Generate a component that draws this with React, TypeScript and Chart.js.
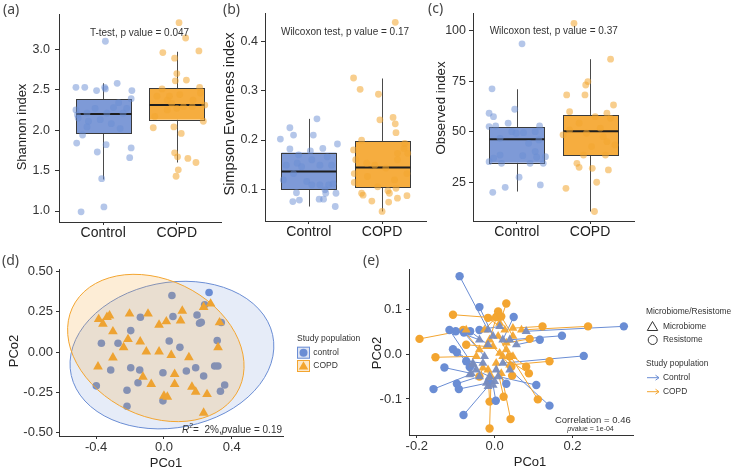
import React, { useEffect, useRef } from 'react';
import { Chart, registerables } from 'chart.js';

Chart.register(...registerables);

const BLUE = '#6A8DD4';
const ORANGE = '#F3A530';
const BLUE_A = 'rgba(106,141,212,0.5)';
const ORANGE_A = 'rgba(243,165,48,0.55)';
const BLUE_BOX = '#7E9AD7';
const ORANGE_BOX = '#F6AD3F';
const INK = '#333333';
const SANS = '"Liberation Sans", Arial, sans-serif';
const LABEL_FONT = '"Noto Sans", "DejaVu Sans", sans-serif';

const groupLabels = ['Control', 'COPD'];

// ---------- (a) Shannon ----------
const shannonTicks = [1.0, 1.5, 2.0, 2.5, 3.0];
const shannonControl = [3.10, 2.53, 2.53, 2.53, 2.58, 2.49, 2.49, 2.51, 2.39, 2.34, 2.25, 2.19, 2.21, 2.27, 2.21, 2.28, 2.27, 2.11, 2.04, 2.08, 2.02, 1.94, 1.84, 1.82, 1.78, 1.73, 1.66, 1.40, 1.05, 0.99, 2.15, 2.13, 2.21];
const shannonControlJitter = [0.03, -0.37, -0.25, 0.02, 0.19, 0.39, -0.09, 0.03, 0.38, 0.21, -0.37, -0.35, -0.22, -0.11, 0.05, 0.14, 0.32, -0.20, -0.22, 0.11, 0.23, -0.28, -0.36, 0.04, 0.38, -0.08, 0.36, -0.02, 0.01, -0.30, -0.34, -0.04, 0.27];
const shannonCopd = [3.33, 3.14, 2.96, 2.98, 2.89, 2.70, 2.61, 2.62, 2.51, 2.53, 2.46, 2.44, 2.42, 2.42, 2.37, 2.31, 2.29, 2.27, 2.25, 2.29, 2.17, 2.11, 2.03, 2.04, 1.96, 1.72, 1.67, 1.65, 1.60, 1.51, 1.43, 2.37, 2.33];
const shannonCopdJitter = [0.03, 0.12, -0.19, 0.30, -0.03, 0.00, -0.02, 0.13, -0.20, 0.31, 0.32, 0.04, -0.10, -0.27, 0.22, 0.38, 0.21, 0.00, -0.13, 0.09, -0.30, 0.36, -0.32, -0.04, 0.06, -0.03, 0.01, 0.15, 0.26, 0.02, -0.01, -0.13, -0.07];
// [lower whisker, Q1, median, Q3, upper whisker]
const shannonControlBox = [1.39, 1.96, 2.20, 2.38, 2.58];
const shannonCopdBox = [1.60, 2.13, 2.31, 2.52, 2.97];

// ---------- (b) Simpson evenness ----------
const simpsonTicks = [0.1, 0.2, 0.3, 0.4];
const simpsonControl = [0.243, 0.225, 0.210, 0.210, 0.202, 0.192, 0.182, 0.178, 0.183, 0.170, 0.166, 0.160, 0.149, 0.153, 0.146, 0.149, 0.149, 0.132, 0.119, 0.116, 0.109, 0.109, 0.109, 0.111, 0.099, 0.093, 0.092, 0.080, 0.080, 0.092, 0.078, 0.075, 0.065];
const simpsonControlJitter = [0.11, -0.26, -0.21, 0.06, -0.39, 0.39, -0.26, 0.02, 0.19, -0.14, 0.25, 0.04, -0.31, -0.16, -0.10, 0.15, 0.31, -0.21, -0.35, -0.03, 0.04, 0.15, 0.27, 0.33, 0.22, -0.17, 0.37, 0.14, 0.20, 0.23, -0.13, -0.22, 0.36];
const simpsonCopd = [0.439, 0.326, 0.303, 0.293, 0.246, 0.241, 0.233, 0.215, 0.193, 0.200, 0.183, 0.180, 0.173, 0.173, 0.160, 0.153, 0.149, 0.160, 0.143, 0.132, 0.132, 0.126, 0.114, 0.119, 0.105, 0.097, 0.092, 0.088, 0.102, 0.087, 0.082, 0.092, 0.076, 0.074, 0.055];
const simpsonCopdJitter = [0.18, -0.39, -0.30, -0.05, 0.15, -0.03, 0.18, 0.19, 0.31, -0.28, 0.30, -0.39, 0.21, 0.35, -0.36, -0.21, -0.10, 0.21, 0.05, 0.34, -0.38, -0.20, -0.38, 0.17, -0.06, 0.08, -0.28, -0.26, 0.19, 0.34, 0.21, 0.10, -0.14, 0.09, 0.00];
const simpsonControlBox = [0.065, 0.100, 0.136, 0.1745, 0.243];
const simpsonCopdBox = [0.055, 0.104, 0.144, 0.198, 0.325];

// ---------- (c) Observed ----------
const observedTicks = [25, 50, 75, 100];
const observedControl = [93.6, 71.3, 61.2, 59.2, 57.5, 52.6, 52.9, 54.3, 49.6, 52.9, 50.1, 49.3, 50.1, 46.8, 44.3, 46.0, 40.2, 38.5, 38.2, 37.7, 36.9, 37.4, 34.4, 34.4, 34.4, 35.2, 27.5, 23.7, 22.5, 20.0];
const observedControlJitter = [0.07, -0.34, -0.03, -0.38, -0.32, -0.38, -0.29, -0.12, 0.09, 0.31, -0.07, -0.01, 0.25, -0.23, 0.16, 0.30, 0.25, -0.23, 0.08, 0.39, -0.32, 0.27, 0.18, 0.36, -0.21, -0.38, 0.03, 0.32, -0.16, -0.33];
const observedCopd = [103.8, 86.0, 74.9, 73.2, 68.3, 68.3, 63.3, 60.0, 59.2, 57.5, 56.7, 54.3, 50.9, 51.8, 48.5, 49.3, 47.6, 43.5, 45.1, 42.7, 38.5, 38.5, 34.4, 32.4, 31.9, 31.1, 25.0, 22.0, 10.5];
const observedCopdJitter = [-0.22, 0.28, -0.03, -0.06, -0.32, -0.07, 0.32, -0.28, 0.23, 0.07, 0.28, -0.15, -0.28, 0.14, -0.37, -0.05, 0.18, 0.34, 0.23, 0.02, -0.09, 0.21, -0.18, -0.15, 0.03, 0.25, 0.09, -0.33, 0.06];
const observedControlBox = [20.4, 34.7, 46.3, 52.3, 71.1];
const observedCopdBox = [10.5, 38.4, 50.3, 58.2, 86.0];

// ---------- (d) PCoA ----------
const pcoaYTicks = [-0.5, -0.25, 0, 0.25, 0.5];
const pcoaXTicks = [-0.4, 0, 0.4];
const pcoaControlX = [0.047, 0.266, 0.240, 0.053, -0.139, 0.195, 0.210, 0.220, 0.338, -0.196, -0.369, -0.271, 0.031, 0.094, 0.314, -0.314, -0.196, -0.143, -0.006, 0.132, 0.187, 0.234, 0.299, 0.318, -0.399, -0.218, -0.153, -0.006, 0.358, 0.333, -0.218];
const pcoaControlY = [0.351, 0.369, 0.293, 0.220, 0.216, 0.230, 0.178, 0.185, 0.183, 0.133, 0.054, 0.054, 0.068, 0.029, 0.071, -0.112, -0.098, -0.112, -0.129, -0.118, -0.098, -0.149, -0.087, -0.087, -0.210, -0.237, -0.191, -0.303, -0.205, -0.243, -0.336];
const pcoaCopdX = [-0.385, -0.360, -0.336, -0.321, -0.301, -0.203, -0.094, -0.029, 0.014, 0.098, 0.108, 0.234, 0.275, 0.328, 0.319, -0.212, -0.238, -0.140, -0.104, -0.029, 0.043, 0.147, -0.301, -0.389, -0.124, -0.075, 0.063, 0.063, 0.000, 0.020, 0.165, 0.187, 0.254, 0.234];
const pcoaCopdY = [0.203, 0.174, 0.216, 0.226, 0.127, 0.237, 0.237, 0.168, 0.189, 0.195, 0.255, 0.278, 0.299, 0.183, 0.029, 0.079, 0.029, 0.064, 0.002, 0.002, -0.019, -0.033, -0.035, -0.091, -0.154, -0.199, -0.137, -0.199, -0.272, -0.278, -0.216, -0.247, -0.262, -0.378];
// ellipse: [centre x, centre y, semi-axis a, semi-axis b, angle in degrees]
const pcoaControlEllipse = [0.047, -0.019, 0.607, 0.450, 12];
const pcoaCopdEllipse = [-0.048, 0.025, 0.553, 0.417, -31];

// ---------- (e) Procrustes ----------
const procYTicks = [-0.1, 0, 0.1];
const procXTicks = [-0.2, 0, 0.2];
const procControlResX = [-0.090, -0.039, 0.049, -0.100, -0.079, -0.107, -0.097, 0.332, 0.173, 0.116, 0.229, -0.129, -0.157, -0.097, -0.092, -0.080, 0.003, 0.141, 0.107, 0.030, -0.063, -0.039, -0.073, -0.064, -0.116, -0.015];
const procControlResY = [0.174, 0.105, 0.083, 0.051, 0.048, 0.011, 0.004, 0.062, 0.041, 0.032, -0.004, -0.030, -0.078, -0.066, -0.078, -0.136, -0.104, -0.115, -0.069, -0.066, 0.051, 0.054, -0.016, -0.029, 0.054, -0.061];
const procControlMicX = [-0.017, -0.004, 0.021, -0.039, -0.026, -0.056, -0.047, 0.081, 0.039, 0.056, 0.021, -0.060, -0.064, -0.039, -0.021, -0.017, -0.004, 0.039, 0.009, 0.004, -0.017, 0.013, -0.030, -0.013, -0.056, 0.000];
const procControlMicY = [0.054, 0.040, 0.032, 0.032, -0.005, -0.020, -0.035, 0.051, 0.032, 0.021, -0.020, -0.043, -0.046, -0.050, -0.065, -0.072, -0.069, -0.035, -0.050, -0.035, 0.021, 0.062, -0.020, -0.050, -0.024, -0.061];
const procCopdResX = [-0.193, -0.107, -0.152, 0.030, 0.009, 0.004, -0.017, 0.123, 0.240, 0.090, 0.141, 0.088, 0.045, -0.013, 0.023, 0.041, -0.013, 0.111, -0.073, 0.043, -0.039, 0.039, -0.081, 0.081, 0.017];
const procCopdResY = [0.034, 0.088, -0.007, 0.113, 0.095, 0.083, 0.081, 0.062, 0.062, 0.034, -0.016, -0.043, -0.048, -0.106, -0.095, -0.145, -0.166, -0.101, 0.021, -0.028, -0.050, -0.005, 0.054, -0.028, 0.084];
const procCopdMicX = [-0.073, 0.000, -0.047, 0.013, -0.013, -0.026, 0.026, 0.047, 0.069, 0.030, 0.039, 0.021, 0.013, -0.017, 0.004, 0.017, -0.009, 0.030, -0.021, -0.004, -0.030, 0.009, -0.039, 0.047, 0.047];
const procCopdMicY = [0.054, 0.081, -0.005, 0.069, 0.032, 0.054, 0.054, 0.058, 0.054, 0.025, -0.024, -0.005, 0.002, -0.035, -0.020, -0.043, -0.050, 0.010, 0.017, 0.017, -0.031, 0.040, 0.010, -0.005, 0.040];

// ---------- helpers ----------
type Part = { t: string; italic?: boolean; sup?: boolean };
type TextItem = { t?: string; parts?: Part[]; x: number; y: number; size: number; rot?: number; align?: 'left' | 'right' | 'center'; family?: string; color?: string };

function decorPlugin(texts: TextItem[], shapes: any[] = []) {
  return {
    id: 'decor',
    afterDraw(chart: any) {
      const ctx: CanvasRenderingContext2D = chart.ctx;
      shapes.forEach((s: any) => {
        ctx.save();
        ctx.lineWidth = 1;
        if (s.shape === 'rect') {
          ctx.fillStyle = s.fill; ctx.fillRect(s.x, s.y, s.w, s.h);
          ctx.strokeStyle = s.stroke; ctx.strokeRect(s.x + 0.5, s.y + 0.5, s.w - 1, s.h - 1);
        } else if (s.shape === 'circle' || s.shape === 'tri') {
          ctx.beginPath();
          if (s.shape === 'circle') ctx.arc(s.x, s.y, s.r, 0, Math.PI * 2);
          else {
            ctx.moveTo(s.x, s.y - s.r);
            ctx.lineTo(s.x + s.r * 0.866, s.y + s.r * 0.5);
            ctx.lineTo(s.x - s.r * 0.866, s.y + s.r * 0.5);
            ctx.closePath();
          }
          if (s.fill) { ctx.fillStyle = s.fill; ctx.fill(); }
          if (s.stroke) { ctx.strokeStyle = s.stroke; ctx.stroke(); }
        } else if (s.shape === 'arrow') {
          ctx.strokeStyle = s.color;
          ctx.beginPath(); ctx.moveTo(s.x1, s.y); ctx.lineTo(s.x2, s.y);
          ctx.moveTo(s.x2 - 3.5, s.y - 2.5); ctx.lineTo(s.x2, s.y); ctx.lineTo(s.x2 - 3.5, s.y + 2.5);
          ctx.stroke();
        }
        ctx.restore();
      });
      texts.forEach((it) => {
        ctx.save();
        ctx.fillStyle = it.color || INK;
        ctx.textBaseline = 'middle';
        ctx.textAlign = 'left';
        ctx.translate(it.x, it.y);
        if (it.rot) ctx.rotate((it.rot * Math.PI) / 180);
        const parts: Part[] = it.parts || [{ t: it.t || '' }];
        const fam = it.family || SANS;
        const fontOf = (p: Part) => `${p.italic ? 'italic ' : ''}${p.sup ? it.size * 0.7 : it.size}px ${fam}`;
        const widths = parts.map((p) => { ctx.font = fontOf(p); return ctx.measureText(p.t).width; });
        const total = widths.reduce((a, b) => a + b, 0);
        let x = it.align === 'left' ? 0 : it.align === 'right' ? -total : -total / 2;
        parts.forEach((p, i) => {
          ctx.font = fontOf(p);
          ctx.fillText(p.t, x, p.sup ? -it.size * 0.38 : 0);
          x += widths[i];
        });
        ctx.restore();
      });
    },
  };
}

function boxPlugin(boxes: number[][], fills: string[]) {
  return {
    id: 'boxes',
    beforeDatasetsDraw(chart: any) {
      const ctx: CanvasRenderingContext2D = chart.ctx;
      const xs = chart.scales.x, ys = chart.scales.y;
      boxes.forEach((b, i) => {
        const xc = i + 1;
        const l = Math.round(xs.getPixelForValue(xc - 0.375)) + 0.5;
        const r = Math.round(xs.getPixelForValue(xc + 0.375)) + 0.5;
        const c = Math.round(xs.getPixelForValue(xc)) + 0.5;
        const [mn, q1, md, q3, mx] = b;
        const yMin = ys.getPixelForValue(mn), yQ1 = ys.getPixelForValue(q1), yMd = ys.getPixelForValue(md);
        const yQ3 = ys.getPixelForValue(q3), yMax = ys.getPixelForValue(mx);
        ctx.save();
        ctx.strokeStyle = '#4a4a4a';
        ctx.lineWidth = 1;
        ctx.beginPath();
        ctx.moveTo(c, yQ3); ctx.lineTo(c, yMax);
        ctx.moveTo(c, yQ1); ctx.lineTo(c, yMin);
        ctx.stroke();
        ctx.fillStyle = fills[i];
        ctx.fillRect(l, yQ3, r - l, yQ1 - yQ3);
        ctx.strokeStyle = '#3a3a3a';
        ctx.strokeRect(l, Math.round(yQ3) + 0.5, r - l, Math.round(yQ1) - Math.round(yQ3));
        ctx.lineWidth = 2;
        ctx.strokeStyle = '#1e1e1e';
        ctx.beginPath(); ctx.moveTo(l, yMd); ctx.lineTo(r, yMd); ctx.stroke();
        ctx.restore();
      });
    },
  };
}

// ellipses are painted right after the dataset with index `afterIndex` (circles), so triangles stay on top
function ellipsePlugin(ellipses: number[][], fills: string[], strokes: string[], afterIndex: number) {
  return {
    id: 'ellipses',
    afterDatasetDraw(chart: any, args: any) {
      if (args.index !== afterIndex) return;
      const ctx: CanvasRenderingContext2D = chart.ctx;
      const xs = chart.scales.x, ys = chart.scales.y;
      ellipses.forEach((e, i) => {
        const [cxv, cyv, a, b, ang] = e;
        const cx = xs.getPixelForValue(cxv), cy = ys.getPixelForValue(cyv);
        const sx = xs.getPixelForValue(cxv + 1) - cx;
        const sy = ys.getPixelForValue(cyv + 1) - cy;
        ctx.save();
        ctx.beginPath();
        ctx.translate(cx, cy);
        ctx.scale(sx, sy);
        ctx.rotate((ang * Math.PI) / 180);
        ctx.ellipse(0, 0, a, b, 0, 0, Math.PI * 2);
        ctx.restore();
        ctx.save();
        ctx.fillStyle = fills[i]; ctx.fill();
        ctx.strokeStyle = strokes[i]; ctx.lineWidth = 1; ctx.stroke();
        ctx.restore();
      });
    },
  };
}

function segmentPlugin(sets: { x1: number[]; y1: number[]; x2: number[]; y2: number[]; color: string }[]) {
  return {
    id: 'segments',
    beforeDatasetsDraw(chart: any) {
      const ctx: CanvasRenderingContext2D = chart.ctx;
      const xs = chart.scales.x, ys = chart.scales.y;
      ctx.save();
      ctx.lineWidth = 1;
      sets.forEach((s) => {
        ctx.strokeStyle = s.color;
        s.x1.forEach((_, i) => {
          ctx.beginPath();
          ctx.moveTo(xs.getPixelForValue(s.x1[i]), ys.getPixelForValue(s.y1[i]));
          ctx.lineTo(xs.getPixelForValue(s.x2[i]), ys.getPixelForValue(s.y2[i]));
          ctx.stroke();
        });
      });
      ctx.restore();
    },
  };
}

function axis(o: { min: number; max: number; ticks: number[]; fmt: (v: number) => string; horizontal: boolean; px: number; tl: number; pad: number; size: number; color?: string }) {
  return {
    type: 'linear',
    min: o.min,
    max: o.max,
    afterBuildTicks: (s: any) => { s.ticks = o.ticks.map((v) => ({ value: v })); },
    afterFit: (s: any) => { if (o.horizontal) s.height = o.px; else s.width = o.px; },
    ticks: {
      callback: (v: any) => o.fmt(Number(v)),
      font: { family: SANS, size: o.size },
      color: o.color || INK,
      padding: o.pad,
      autoSkip: false,
      maxRotation: 0,
      minRotation: 0,
    },
    grid: { display: true, drawOnChartArea: false, drawTicks: true, tickLength: o.tl, color: INK, lineWidth: 1 },
    border: { display: true, color: INK, width: 1 },
  };
}

const baseOptions = (padding: any) => ({
  animation: false,
  responsive: false,
  maintainAspectRatio: false,
  events: [],
  layout: { padding },
  plugins: { legend: { display: false }, tooltip: { enabled: false } },
});

function boxConfig(spec: {
  ctrl: number[]; ctrlJ: number[]; copd: number[]; copdJ: number[]; boxes: number[][];
  yMin: number; yMax: number; yTicks: number[]; yFmt: (v: number) => string;
  yWidth: number; yPad: number; padR: number; padT: number; xH: number; texts: TextItem[];
}) {
  return {
    type: 'scatter',
    data: {
      datasets: [
        { data: spec.ctrl.map((v, i) => ({ x: 1 + spec.ctrlJ[i], y: v })), backgroundColor: BLUE_A, borderWidth: 0, pointRadius: 3.4 },
        { data: spec.copd.map((v, i) => ({ x: 2 + spec.copdJ[i], y: v })), backgroundColor: ORANGE_A, borderWidth: 0, pointRadius: 3.4 },
      ],
    },
    options: {
      ...baseOptions({ left: 0, right: spec.padR, top: spec.padT, bottom: 0 }),
      scales: {
        x: axis({ min: 0.4, max: 2.6, ticks: [1, 2], fmt: (v) => groupLabels[Math.round(v) - 1], horizontal: true, px: spec.xH, tl: 3, pad: 0, size: 14, color: '#222' }),
        y: axis({ min: spec.yMin, max: spec.yMax, ticks: spec.yTicks, fmt: spec.yFmt, horizontal: false, px: spec.yWidth, tl: 4, pad: spec.yPad, size: 12.5 }),
      },
    },
    plugins: [boxPlugin(spec.boxes, [BLUE_BOX, ORANGE_BOX]), decorPlugin(spec.texts)],
  };
}

export default function App() {
  const ra = useRef<HTMLCanvasElement>(null);
  const rb = useRef<HTMLCanvasElement>(null);
  const rc = useRef<HTMLCanvasElement>(null);
  const rd = useRef<HTMLCanvasElement>(null);
  const re = useRef<HTMLCanvasElement>(null);

  useEffect(() => {
    const charts: Chart[] = [];
    const cfgA = boxConfig({
      ctrl: shannonControl, ctrlJ: shannonControlJitter, copd: shannonCopd, copdJ: shannonCopdJitter,
      boxes: [shannonControlBox, shannonCopdBox], yMin: 0.864, yMax: 3.437, yTicks: shannonTicks,
      yFmt: (v) => v.toFixed(1), yWidth: 59, yPad: 5, padR: 5, padT: 14, xH: 23,
      texts: [
        { t: '(a)', x: 3, y: 10, size: 14, align: 'left', family: LABEL_FONT, color: '#444' },
        { t: 'T-test, p value = 0.047', x: 139.5, y: 33.3, size: 10 },
        { t: 'Shannon index', x: 22, y: 127, size: 13, rot: -90, color: '#222' },
      ],
    });
    const cfgB = boxConfig({
      ctrl: simpsonControl, ctrlJ: simpsonControlJitter, copd: simpsonCopd, copdJ: simpsonCopdJitter,
      boxes: [simpsonControlBox, simpsonCopdBox], yMin: 0.0356, yMax: 0.458, yTicks: simpsonTicks,
      yFmt: (v) => v.toFixed(1), yWidth: 43, yPad: 3, padR: 6, padT: 13, xH: 24,
      texts: [
        { t: '(b)', x: 1, y: 10, size: 14, align: 'left', family: LABEL_FONT, color: '#444' },
        { t: 'Wilcoxon test, p value = 0.17', x: 123, y: 32.7, size: 10 },
        { t: 'Simpson Evenness index', x: 8, y: 114, size: 14.5, rot: -90, color: '#222' },
      ],
    });
    const cfgC = boxConfig({
      ctrl: observedControl, ctrlJ: observedControlJitter, copd: observedCopd, copdJ: observedCopdJitter,
      boxes: [observedControlBox, observedCopdBox], yMin: 5.8, yMax: 108.9, yTicks: observedTicks,
      yFmt: (v) => String(Math.round(v)), yWidth: 47, yPad: 3, padR: 6, padT: 13, xH: 24,
      texts: [
        { t: '(c)', x: 2, y: 9, size: 14, align: 'left', family: LABEL_FONT, color: '#444' },
        { t: 'Wilcoxon test, p value = 0.37', x: 127.7, y: 31.7, size: 10 },
        { t: 'Observed index', x: 15, y: 108, size: 13.3, rot: -90, color: '#222' },
      ],
    });

    const cfgD: any = {
      type: 'scatter',
      data: {
        datasets: [
          { data: pcoaCopdX.map((x, i) => ({ x, y: pcoaCopdY[i] })), pointStyle: 'triangle', pointRadius: 5.6, backgroundColor: '#EEA332', borderWidth: 0 },
          { data: pcoaControlX.map((x, i) => ({ x, y: pcoaControlY[i] })), pointStyle: 'circle', pointRadius: 3.8, backgroundColor: BLUE, borderWidth: 0 },
        ],
      },
      options: {
        ...baseOptions({ left: 0, right: 87, top: 19, bottom: 0 }),
        scales: {
          x: axis({ min: -0.619, max: 0.702, ticks: pcoaXTicks, fmt: (v) => v.toFixed(1), horizontal: true, px: 32, tl: 3, pad: 1, size: 13 }),
          y: axis({ min: -0.521, max: 0.515, ticks: pcoaYTicks, fmt: (v) => v.toFixed(2), horizontal: false, px: 59, tl: 3, pad: 3, size: 13 }),
        },
      },
      plugins: [
        ellipsePlugin([pcoaControlEllipse, pcoaCopdEllipse], ['rgba(106,141,212,0.17)', 'rgba(243,165,48,0.2)'], [BLUE, ORANGE], 1),
        decorPlugin(
          [
            { t: '(d)', x: 2, y: 11, size: 14, align: 'left', family: LABEL_FONT, color: '#444' },
            { t: 'PCo2', x: 14, y: 101, size: 13, rot: -90, color: '#222' },
            { t: 'PCo1', x: 166, y: 213, size: 13, color: '#222' },
            { parts: [{ t: 'R', italic: true }, { t: '2', sup: true }, { t: '=  2%,' }, { t: 'p', italic: true }, { t: 'value = 0.19' }], x: 282, y: 180, size: 10, align: 'right' },
            { t: 'Study population', x: 297, y: 88.3, size: 8.5, align: 'left' },
            { t: 'control', x: 313.3, y: 102.7, size: 8.5, align: 'left' },
            { t: 'COPD', x: 313.3, y: 116, size: 8.5, align: 'left' },
          ],
          [
            { shape: 'rect', x: 297, y: 96.7, w: 13, h: 12, fill: '#DDE4F4', stroke: BLUE },
            { shape: 'circle', x: 303.5, y: 102.7, r: 4, fill: BLUE },
            { shape: 'rect', x: 297, y: 110, w: 13, h: 12, fill: '#FCE8CB', stroke: ORANGE },
            { shape: 'tri', x: 303.5, y: 116.8, r: 5.5, fill: ORANGE },
          ],
        ),
      ],
    };

    const cfgE: any = {
      type: 'scatter',
      data: {
        datasets: [
          { data: procControlMicX.map((x, i) => ({ x, y: procControlMicY[i] })), pointStyle: 'triangle', pointRadius: 5.2, backgroundColor: 'rgba(120,140,190,0.95)', borderWidth: 0 },
          { data: procCopdMicX.map((x, i) => ({ x, y: procCopdMicY[i] })), pointStyle: 'triangle', pointRadius: 5.2, backgroundColor: 'rgba(243,165,48,0.95)', borderWidth: 0 },
          { data: procControlResX.map((x, i) => ({ x, y: procControlResY[i] })), pointStyle: 'circle', pointRadius: 4.2, backgroundColor: BLUE, borderWidth: 0 },
          { data: procCopdResX.map((x, i) => ({ x, y: procCopdResY[i] })), pointStyle: 'circle', pointRadius: 4.2, backgroundColor: ORANGE, borderWidth: 0 },
        ],
      },
      options: {
        ...baseOptions({ left: 0, right: 101, top: 19, bottom: 0 }),
        scales: {
          x: axis({ min: -0.22, max: 0.3555, ticks: procXTicks, fmt: (v) => v.toFixed(1), horizontal: true, px: 33, tl: 3, pad: 1, size: 13 }),
          y: axis({ min: -0.1805, max: 0.19, ticks: procYTicks, fmt: (v) => v.toFixed(1), horizontal: false, px: 49, tl: 3, pad: 4, size: 13 }),
        },
      },
      plugins: [
        segmentPlugin([
          { x1: procControlMicX, y1: procControlMicY, x2: procControlResX, y2: procControlResY, color: BLUE },
          { x1: procCopdMicX, y1: procCopdMicY, x2: procCopdResX, y2: procCopdResY, color: ORANGE },
        ]),
        decorPlugin(
          [
            { t: '(e)', x: 3, y: 11, size: 14, align: 'left', family: LABEL_FONT, color: '#444' },
            { t: 'PCo2', x: 17, y: 103, size: 13, rot: -90, color: '#222' },
            { t: 'PCo1', x: 170, y: 212, size: 13, color: '#222' },
            { t: 'Correlation = 0.46', x: 270.7, y: 170.7, size: 9.5, align: 'right' },
            { parts: [{ t: 'p', italic: true }, { t: 'value = 1e-04' }], x: 230.5, y: 179.5, size: 7 },
            { t: 'Microbiome/Resistome', x: 286, y: 61.7, size: 8.4, align: 'left' },
            { t: 'Microbiome', x: 303, y: 76.7, size: 8.4, align: 'left' },
            { t: 'Resistome', x: 303, y: 90, size: 8.4, align: 'left' },
            { t: 'Study population', x: 286, y: 113.3, size: 8.4, align: 'left' },
            { t: 'Control', x: 303, y: 127.7, size: 8.4, align: 'left' },
            { t: 'COPD', x: 303, y: 141.7, size: 8.4, align: 'left' },
          ],
          [
            { shape: 'tri', x: 292.5, y: 77.5, r: 6, stroke: '#333' },
            { shape: 'circle', x: 292.7, y: 90, r: 4.5, stroke: '#333' },
            { shape: 'arrow', x1: 287, x2: 299, y: 127.7, color: BLUE },
            { shape: 'arrow', x1: 287, x2: 299, y: 141.7, color: ORANGE },
          ],
        ),
      ],
    };

    charts.push(new Chart(ra.current as HTMLCanvasElement, cfgA as any));
    charts.push(new Chart(rb.current as HTMLCanvasElement, cfgB as any));
    charts.push(new Chart(rc.current as HTMLCanvasElement, cfgC as any));
    charts.push(new Chart(rd.current as HTMLCanvasElement, cfgD));
    charts.push(new Chart(re.current as HTMLCanvasElement, cfgE));
    return () => charts.forEach((c) => c.destroy());
  }, []);

  const cv = (left: number, top: number, w: number, h: number) => ({ position: 'absolute' as const, left, top, width: w, height: h });

  return (
    <div style={{ position: 'absolute', left: 0, top: 0, width: 734, height: 468, background: '#ffffff', overflow: 'hidden' }}>
      <canvas ref={ra} width={226} height={245} style={cv(0, 0, 226, 245)} />
      <canvas ref={rb} width={210} height={245} style={cv(222, 0, 210, 245)} />
      <canvas ref={rc} width={214} height={245} style={cv(426, 0, 214, 245)} />
      <canvas ref={rd} width={370} height={218} style={cv(0, 250, 370, 218)} />
      <canvas ref={re} width={374} height={218} style={cv(360, 250, 374, 218)} />
    </div>
  );
}
